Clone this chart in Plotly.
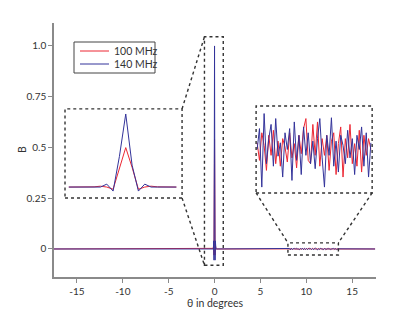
import plotly.graph_objects as go

# ---------------- data ----------------
series_names = ["100 MHz", "140 MHz"]

# main-lobe samples (angle in degrees)
peak_theta = [-0.27, -0.24, -0.21, -0.18, -0.15, -0.12, -0.09, -0.06, -0.03,
              0.0, 0.03, 0.06, 0.09, 0.12, 0.15, 0.18, 0.21, 0.24]
peak_100 = [0.0, 0.0, 0.0, 0.0, 0.003, 0.012, 0.0, -0.03, 0.27,
            0.54, 0.27, -0.03, 0.0, 0.012, 0.003, 0.0, 0.0, 0.0]
peak_140 = [0.0, 0.0, 0.0, 0.0, 0.0, 0.0, 0.04, -0.055, 0.42,
            1.0, 0.3, -0.055, 0.04, 0.0, 0.0, 0.0, 0.0, 0.0]

# far side-lobe samples (values in units of 1e-3)
noise_theta = [8.05, 8.16, 8.27, 8.38, 8.49, 8.60, 8.71, 8.82, 8.93, 9.04,
               9.15, 9.26, 9.37, 9.48, 9.59, 9.70, 9.81, 9.92, 10.03, 10.14,
               10.25, 10.36, 10.47, 10.58, 10.69, 10.80, 10.91, 11.02, 11.13, 11.24,
               11.35, 11.46, 11.57, 11.68, 11.79, 11.90, 12.01, 12.12, 12.23, 12.34,
               12.45, 12.56, 12.67, 12.78, 12.89, 13.00, 13.11, 13.22, 13.33, 13.44]
noise_100_milli = [0.8, -1.3, 2.0, 0.5, -2.5, 1.7, -0.7, 2.3, -1.7, 1.0,
                   -2.0, 1.3, 0.3, -1.5, 2.0, -1.0, 0.7, -2.2, 1.7, -0.5,
                   2.5, 3.7, -1.3, -1.7, 3.0, -0.7, 3.3, -2.0, 1.3, -0.7,
                   1.7, -2.5, 1.0, 2.0, -3.0, 0.7, 2.7, -3.3, 1.3, -1.0,
                   3.0, -1.7, 0.7, -2.0, 2.3, -2.7, 1.7, -0.7, 1.3, 0.0]
noise_140_milli = [0.0, 2.5, -4.5, 4.3, -1.7, 1.3, 3.0, -2.0, 3.7, -0.8,
                   0.8, -3.3, 2.0, 0.0, 2.5, -3.7, 3.3, -1.3, 1.7, -3.0,
                   2.7, -0.7, 2.0, -1.7, 1.0, -2.3, 1.3, 3.7, -1.0, -4.5,
                   1.7, -0.7, 3.8, -2.0, 1.0, -2.7, 1.7, 0.5, -1.7, 2.3,
                   -1.0, 1.3, -3.0, 1.7, 0.0, 2.7, -2.0, 2.0, -3.3, 0.8]

theta_span = [-17.5, 17.5]
x_ticks = [-15, -10, -5, 0, 5, 10, 15]
x_ticktext = ["-15", "-10", "-5", "0", "5", "10", "15"]
y_ticks = [0, 0.25, 0.5, 0.75, 1.0]
y_ticktext = ["0", "0.25", "0.5", "0.75", "1.0"]
x_title = "θ in degrees"
y_title = "B"

noise_100 = [v / 1000 for v in noise_100_milli]
noise_140 = [v / 1000 for v in noise_140_milli]

# ---------------- layout geometry ----------------
OFF = 8                      # page body margin
W, H = 415 - OFF, 312 - OFF  # figure size
# plot area in page pixels
PL, PR, PT, PB = 54, 376, 23, 277
L, R, T, B = PL - OFF, PR - OFF, PT - OFF, PB - OFF
XR = [-17.5, 17.6]
YR = [-0.138, 1.113]

def px_x(px):  # page px -> paper
    return (px - PL) / (PR - PL)

def px_y(py):
    return (PB - py) / (PB - PT)

def dx(v):
    return (v - XR[0]) / (XR[1] - XR[0])

def dy(v):
    return (v - YR[0]) / (YR[1] - YR[0])

red = "#ec2733"
blue = "#33339a"
colors = [red, blue]
FONT = "Lato"

fig = go.Figure()

main_x = [theta_span[0]] + peak_theta + noise_theta + [theta_span[1]]
for name, pk, nz, col in [(series_names[0], peak_100, noise_100, red),
                          (series_names[1], peak_140, noise_140, blue)]:
    fig.add_trace(go.Scatter(x=main_x, y=[0.0] + pk + nz + [0.0], mode="lines",
                             name=name, showlegend=False, line=dict(color=col, width=1),
                             xaxis="x", yaxis="y"))
    fig.add_trace(go.Scatter(x=peak_theta, y=pk, mode="lines", showlegend=False,
                             line=dict(color=col, width=1), xaxis="x2", yaxis="y2"))
    fig.add_trace(go.Scatter(x=noise_theta, y=nz, mode="lines", showlegend=False,
                             line=dict(color=col, width=1), xaxis="x3", yaxis="y3"))

# boxes in main-data coordinates
spike_box = dict(x0=-1.1, x1=0.95, y0=-0.08, y1=1.045)
noise_box = dict(x0=8.0, x1=13.5, y0=-0.03, y1=0.03)
inset1 = dict(x0=-16.3, x1=-3.54, y0=0.251, y1=0.690)
inset2 = dict(x0=4.53, x1=17.18, y0=0.276, y1=0.704)

dash_line = dict(color="#333333", width=1.4, dash="3px,3px")
shapes = []
for bx in [spike_box, noise_box, inset1, inset2]:
    shapes.append(dict(type="rect", xref="x", yref="y", line=dash_line,
                       fillcolor="rgba(0,0,0,0)", **bx))
connectors = [
    (inset1["x1"], inset1["y1"], spike_box["x0"], spike_box["y1"]),
    (inset1["x1"], inset1["y0"], spike_box["x0"], spike_box["y0"]),
    (inset2["x0"], inset2["y0"], noise_box["x0"], noise_box["y1"]),
    (inset2["x1"], inset2["y0"], noise_box["x1"], noise_box["y1"]),
]
for x0, y0, x1, y1 in connectors:
    shapes.append(dict(type="line", xref="x", yref="y", x0=x0, y0=y0, x1=x1, y1=y1,
                       line=dash_line))

# legend (box, sample lines, labels)
annotations = []
shapes.append(dict(type="rect", xref="paper", yref="paper",
                   x0=px_x(74), x1=px_x(155), y0=px_y(73), y1=px_y(42),
                   line=dict(color="#444", width=1), fillcolor="white"))
for i, (name, col) in enumerate(zip(series_names, colors)):
    yy = px_y(51 + 13 * i)
    shapes.append(dict(type="line", xref="paper", yref="paper",
                       x0=px_x(80), x1=px_x(109), y0=yy, y1=yy,
                       line=dict(color=col, width=1)))
    annotations.append(dict(xref="paper", yref="paper", x=px_x(112), y=yy,
                            xanchor="left", yanchor="middle", showarrow=False,
                            text=name, font=dict(family=FONT, size=10.5, color="#333")))

# y-axis title
annotations.append(dict(xref="paper", yref="paper", x=px_x(22), y=px_y(150),
                        xanchor="center", yanchor="middle", showarrow=False,
                        textangle=-90, text=y_title,
                        font=dict(family=FONT, size=10.5, color="#333")))

axis_common = dict(showgrid=False, zeroline=False, showline=True, linecolor="#8a8a8a",
                   linewidth=1.5, ticks="outside", ticklen=4, tickwidth=1,
                   tickcolor="#8a8a8a", automargin=False,
                   tickfont=dict(family=FONT, size=10, color="#333"))

hidden = dict(visible=False, showgrid=False, zeroline=False, fixedrange=True)

fig.update_layout(
    width=W, height=H,
    margin=dict(l=L, r=W - R, t=T, b=H - B),
    paper_bgcolor="white", plot_bgcolor="white",
    font=dict(family=FONT, size=10, color="#333"),
    xaxis=dict(range=XR, tickvals=x_ticks, ticktext=x_ticktext,
               title=dict(text=x_title, font=dict(family=FONT, size=10.5, color="#333"),
                          standoff=4),
               **axis_common),
    yaxis=dict(range=YR, tickvals=y_ticks, ticktext=y_ticktext, **axis_common),
    xaxis2=dict(domain=[dx(inset1["x0"]), dx(inset1["x1"])], range=[-0.288, 0.267],
                anchor="y2", **hidden),
    yaxis2=dict(domain=[dy(inset1["y0"]), dy(inset1["y1"])], range=[-0.15, 1.07],
                anchor="x2", **hidden),
    xaxis3=dict(domain=[dx(inset2["x0"]), dx(inset2["x1"])], range=[8.0, 13.5],
                anchor="y3", **hidden),
    yaxis3=dict(domain=[dy(inset2["y0"]), dy(inset2["y1"])], range=[-0.0052, 0.0052],
                anchor="x3", **hidden),
    shapes=shapes,
    annotations=annotations,
    showlegend=False,
)

fig.write_html("out.html")
